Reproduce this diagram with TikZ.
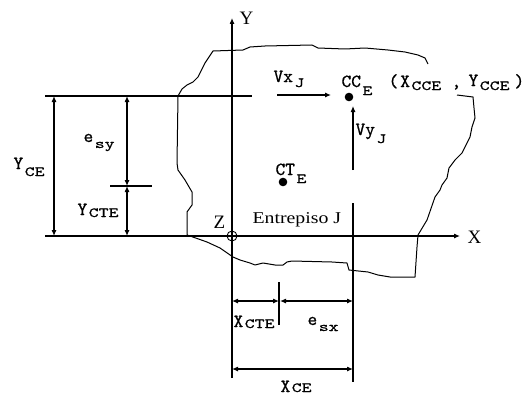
\documentclass[tikz,border=0pt]{standalone}
\usepackage{fontspec}
\usepackage{graphicx}
\setmainfont{Liberation Serif}
\newfontfamily\widefnt[FakeStretch=1.2]{Liberation Serif}
\newfontfamily\lblfnt[FakeBold=0.7]{lmmono10-regular.otf}
\newfontfamily\subfnt[FakeBold=0.7,FakeStretch=1.35]{lmmono10-regular.otf}
\usetikzlibrary{arrows.meta}
\newcommand\mainlbl{\lblfnt\fontsize{18.5}{18.5}\selectfont}
\newcommand\sbx[2][4pt]{\hspace{1.5pt}\raisebox{-#1}{\subfnt\fontsize{14}{14}\selectfont #2}}
\begin{document}
\begin{tikzpicture}[x=1pt,y=-1pt, line width=1.1pt,
  tip/.style={-{Latex[length=6pt,width=5pt]}},
  dim/.style={{Latex[length=6pt,width=5pt]}-{Latex[length=6pt,width=5pt]}},
  lbl/.style={anchor=base west, inner sep=0pt, font=\mainlbl},
  axlbl/.style={anchor=base west, inner sep=0pt, font=\fontsize{19}{19}\selectfont},
  blob/.style={line width=1pt, line join=round},
]
\useasboundingbox (0,0) rectangle (529,396);
\fill[white] (0,0) rectangle (529,396);
% coordinates
\coordinate (O) at (232,236);
\coordinate (Ytop) at (232,18); \coordinate (Ybot) at (232,378);
\coordinate (Xl) at (45,236); \coordinate (Xr) at (460,236);
\coordinate (Tl) at (45,96); \coordinate (Tr) at (252,96);
\coordinate (A1) at (54,96); \coordinate (A2) at (54,236);
\coordinate (B1) at (127,96); \coordinate (B2) at (127,186); \coordinate (B3) at (127,236);
\coordinate (Bt1) at (110,186); \coordinate (Bt2) at (152,186);
\coordinate (R1) at (353,203); \coordinate (R2) at (353,382);
\coordinate (C1) at (232,301); \coordinate (C2) at (279,301); \coordinate (C3) at (280,301); \coordinate (C4) at (353,301);
\coordinate (Ct1) at (279,282); \coordinate (Ct2) at (279,325);
\coordinate (D1) at (232,369); \coordinate (D2) at (353,369);
\coordinate (Vx1) at (277,95); \coordinate (Vx2) at (331,95);
\coordinate (Vy1) at (353,170); \coordinate (Vy2) at (353,106);
% outline of the floor
\draw[blob] (428,64) -- (425,58) -- (418,55) -- (405,52) -- (388,50) -- (365,48) -- (345,49) -- (318,48) -- (312,45) -- (265,46) -- (250,47) -- (243,50) -- (213,51) -- (205,63) -- (198,77) -- (193,82) -- (187,85) -- (182,89) -- (178,96) -- (177,163) -- (178,170) -- (185,180) -- (192,192) -- (192,205) -- (187,212) -- (187,235) -- (190,236) -- (207,242) -- (220,248) -- (233,257) -- (240,260) -- (250,263) -- (255,265) -- (263,263) -- (275,265) -- (283,265) -- (287,262) -- (292,261) -- (332,262) -- (347,263) -- (349,270) -- (368,272) -- (378,275) -- (390,277) -- (415,277) -- (417,247) -- (418,235) -- (427,220) -- (435,197) -- (440,190) -- (442,185) -- (447,178) -- (449,168) -- (455,160) -- (462,153) -- (465,147) -- (470,137) -- (472,127) -- (475,118) -- (474,108) -- (473,97) -- (457,95);
% axes and lines
\draw[tip] (Ybot) -- (Ytop);
\draw[tip] (Xl) -- (Xr);
\draw (Tl) -- (Tr);
\draw[dim] (A1) -- (A2);
\draw[dim] (B1) -- (B2);
\draw[dim] (B2) -- (B3);
\draw (Bt1) -- (Bt2);
\draw (R1) -- (R2);
\draw[dim] (C1) -- (C2);
\draw[dim] (C3) -- (C4);
\draw (Ct1) -- (Ct2);
\draw[dim] (D1) -- (D2);
\draw[tip] (Vx1) -- (Vx2);
\draw[tip] (Vy1) -- (Vy2);
% points
\fill (349,97) circle (4.3);
\fill (283,182) circle (4.3);
\draw[line width=0.9pt] (O) circle (5);
\fill (O) circle (1.5);
% labels
\node[axlbl] (ly) at (239,25) {Y};
\node[axlbl] (lx) at (467,243) {X};
\node[axlbl] (lz) at (213,228) {Z};
\node[anchor=base west, inner sep=0pt, font=\widefnt\fontsize{16.5}{16.5}\selectfont] (lent) at (252,223) {Entrepiso J};
\node[lbl] (lyce) at (13,169) {Y\sbx[7pt]{CE}};
\node[lbl] (lesy) at (83,142) {e\sbx[6pt]{sy}};
\node[lbl] (lycte) at (77,215) {Y\sbx[2pt]{CTE}};
\node[lbl] (lvx) at (273,82) {Vx\sbx[5pt]{J}};
\node[lbl] (lcc) at (341,87) {CC\sbx[8pt]{E}};
\node[lbl] (lxcc) at (388,87) {(\hspace{2pt}X\sbx[3pt]{CCE}};
\node[lbl] (lcomma) at (451,87) {,};
\node[lbl] (lycc) at (468,86) {Y\sbx[4pt]{CCE}};
\node[lbl] (lpar) at (514,87) {)};
\node[lbl] (lvy) at (355,135) {Vy\sbx[8pt]{J}};
\node[lbl] (lct) at (275,175) {CT\sbx[8pt]{E}};
\node[lbl] (lxcte) at (233,327) {X\sbx[1pt]{CTE}};
\node[lbl] (lesx) at (307,325) {e\sbx[6pt]{sx}};
\node[lbl] (lxce) at (280,392) {X\sbx[0pt]{CE}};
\end{tikzpicture}
\end{document}
